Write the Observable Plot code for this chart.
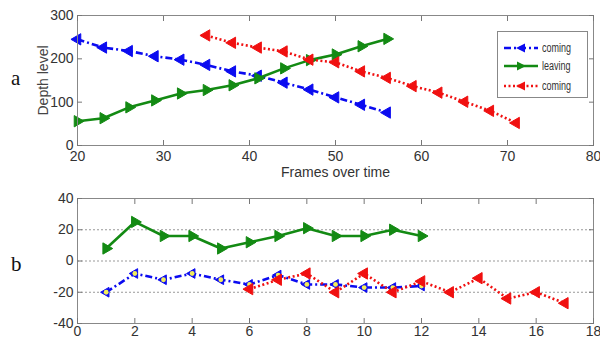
<!DOCTYPE html>
<html><head><meta charset="utf-8">
<script src="https://cdn.jsdelivr.net/npm/d3@7"></script>
<script src="https://cdn.jsdelivr.net/npm/@observablehq/plot@0.6"></script>
<style>
body{margin:0;background:#fff;}
#wrap{position:relative;width:600px;height:345px;overflow:hidden;background:#fff;font-family:"Liberation Sans",Arial,sans-serif;}
.panel{position:absolute;left:0;}
.lab{position:absolute;font-family:"Liberation Serif","Times New Roman",serif;font-size:21px;color:#111;line-height:1;}
#legend{position:absolute;left:497px;top:31px;width:91px;height:67px;border:1px solid #888;background:#fff;box-sizing:border-box;}
.row{position:absolute;left:5px;height:16px;display:flex;align-items:center;}
.row span{display:inline-block;font-family:"Liberation Sans",Arial,sans-serif;font-size:12.5px;color:#333;margin-left:3px;transform:scaleX(0.72);transform-origin:left center;}
</style></head><body>
<div id="wrap"></div>
<script>
// ---- Panel a data ----
const framesA1 = [20,23,26,29,32,35,38,41,44,47,50,53,56];
const comingA1 = [245,226,218,206,198,186,171,161,145,129,111,94,76];
const leavingA = [56,63,88,104,120,128,139,155,178,197,210,229,246];
const framesA2 = [35,38,41,44,47,50,53,56,59,62,65,68,71];
const comingA2 = [254,237,226,217,198,192,171,156,137,122,101,80,52];
const xTicksA = [20,30,40,50,60,70,80];
const yTicksA = [0,100,200,300];

// ---- Panel b data ----
const framesB1 = [1,2,3,4,5,6,7,8,9,10,11,12];
const comingB1 = [-20,-8,-12,-8,-12,-15,-9,-15,-15,-17,-17,-16];
const leavingB = [8,25,16,16,8,12,16,21,16,16,20,16];
const framesB2 = [6,7,8,9,10,11,12,13,14,15,16,17];
const comingB2 = [-18,-12,-8,-20,-8,-20,-13,-20,-11,-24,-20,-27];
const xTicksB = [0,2,4,6,8,10,12,14,16,18];
const yTicksB = [-40,-20,0,20,40];
const gridB = [-20,0,20];

const labelsLegend = ["coming","leaving","coming"];

const BLUE = "#0b0bf0", GREEN = "#138a13", RED = "#f01010";
const styles = {
  coming1: {stroke: BLUE, dash: "7,3,2,3", rot: -90},
  leaving: {stroke: GREEN, dash: null, rot: 90},
  coming2: {stroke: RED, dash: "2,2.5", rot: -90}
};

function rows(xs, ys) { return xs.map((x, i) => ({x, y: ys[i]})); }
const A1 = rows(framesA1, comingA1), AL = rows(framesA1, leavingA), A2 = rows(framesA2, comingA2);
const B1 = rows(framesB1, comingB1), BL = rows(framesB1, leavingB), B2 = rows(framesB2, comingB2);

const font = "'Liberation Sans', Arial, sans-serif";

function seriesMarks(data, st, opts = {}) {
  const m = [
    Plot.line(data, {x: "x", y: "y", stroke: st.stroke, strokeWidth: 2.6, strokeLinecap: "butt", strokeDasharray: st.dash ?? undefined})
  ];
  if (opts.dots) {
    m.push(Plot.dot(data, {x: "x", y: "y", symbol: "triangle", rotate: st.rot, r: 3.6, fill: st.stroke, stroke: st.stroke, strokeWidth: 1}));
    m.push(Plot.dot(data, {x: "x", y: "y", r: 2.4, fill: "#f2ee5a", stroke: "none"}));
  } else {
    m.push(Plot.dot(data, {x: "x", y: "y", symbol: "triangle", rotate: st.rot, r: 4.2, fill: st.stroke, stroke: st.stroke, strokeWidth: 1}));
  }
  return m;
}

function axes(xt, yt, padX, padY) {
  return [
    Plot.axisX({ticks: xt, tickSize: -5, tickPadding: padX, fontSize: 14, label: null, tickFormat: d => String(d), stroke: "#777"}),
    Plot.axisX({ticks: xt, anchor: "top", tickSize: -5, tickFormat: () => "", label: null, stroke: "#777"}),
    Plot.axisY({ticks: yt, tickSize: -5, tickPadding: padY, fontSize: 14, label: null, tickFormat: d => String(d), stroke: "#777"}),
    Plot.axisY({ticks: yt, anchor: "right", tickSize: -5, tickFormat: () => "", label: null, stroke: "#777"})
  ];
}

const plotTop = Plot.plot({
  width: 600, height: 190,
  marginLeft: 77, marginRight: 7, marginTop: 15, marginBottom: 45,
  x: {domain: [20, 80]},
  y: {domain: [0, 300]},
  style: {fontFamily: font, fontSize: "14px", color: "#333", background: "transparent", overflow: "visible"},
  marks: [
    ...seriesMarks(A1, styles.coming1),
    ...seriesMarks(AL, styles.leaving),
    ...seriesMarks(A2, styles.coming2),
    Plot.frame({stroke: "#888"}),
    ...axes(xTicksA, yTicksA, 11, 9),
    Plot.text(["Frames over time"], {frameAnchor: "bottom", dy: 31, fontSize: 14, fill: "#333", textAnchor: "middle"}),
    Plot.text(["Depth level"], {frameAnchor: "left", dx: -34, rotate: -90, fontSize: 14, fill: "#444", textAnchor: "middle"})
  ]
});

const plotBottom = Plot.plot({
  width: 600, height: 155,
  marginLeft: 77, marginRight: 7, marginTop: 8, marginBottom: 22,
  x: {domain: [0, 18]},
  y: {domain: [-40, 40]},
  style: {fontFamily: font, fontSize: "14px", color: "#333", background: "transparent", overflow: "visible"},
  marks: [
    Plot.ruleY(gridB, {stroke: "#999", strokeDasharray: "2,2", strokeWidth: 1}),
    ...seriesMarks(B1, styles.coming1, {dots: true}),
    ...seriesMarks(BL, styles.leaving),
    ...seriesMarks(B2, styles.coming2),
    Plot.frame({stroke: "#888"}),
    ...axes(xTicksB, yTicksB, 8, 9)
  ]
});

const wrap = document.getElementById("wrap");
plotTop.classList.add("panel"); plotTop.style.top = "0px";
plotBottom.classList.add("panel"); plotBottom.style.top = "190px";
wrap.appendChild(plotTop);
wrap.appendChild(plotBottom);

// panel letters
[["a", 11, 68], ["b", 11, 254]].forEach(([t, l, tp]) => {
  const d = document.createElement("div");
  d.className = "lab"; d.textContent = t; d.style.left = l + "px"; d.style.top = tp + "px";
  wrap.appendChild(d);
});

// legend
const leg = document.createElement("div");
leg.id = "legend";
const keys = ["coming1", "leaving", "coming2"];
const rowTops = [8, 26, 46];
keys.forEach((k, i) => {
  const st = styles[k];
  const r = document.createElement("div");
  r.className = "row"; r.style.top = rowTops[i] + "px";
  const ns = "http://www.w3.org/2000/svg";
  const s = document.createElementNS(ns, "svg");
  s.setAttribute("width", 36); s.setAttribute("height", 14);
  const ln = document.createElementNS(ns, "line");
  ln.setAttribute("x1", 1); ln.setAttribute("x2", 35); ln.setAttribute("y1", 7); ln.setAttribute("y2", 7);
  ln.setAttribute("stroke", st.stroke); ln.setAttribute("stroke-width", 2.6);
  if (st.dash) ln.setAttribute("stroke-dasharray", st.dash);
  s.appendChild(ln);
  const tri = document.createElementNS(ns, "path");
  tri.setAttribute("d", st.rot < 0 ? "M13,7L22,2.5L22,11.5Z" : "M23,7L14,2.5L14,11.5Z");
  tri.setAttribute("fill", st.stroke);
  s.appendChild(tri);
  r.appendChild(s);
  const sp = document.createElement("span");
  sp.textContent = labelsLegend[i];
  r.appendChild(sp);
  leg.appendChild(r);
});
wrap.appendChild(leg);
</script>
</body></html>
